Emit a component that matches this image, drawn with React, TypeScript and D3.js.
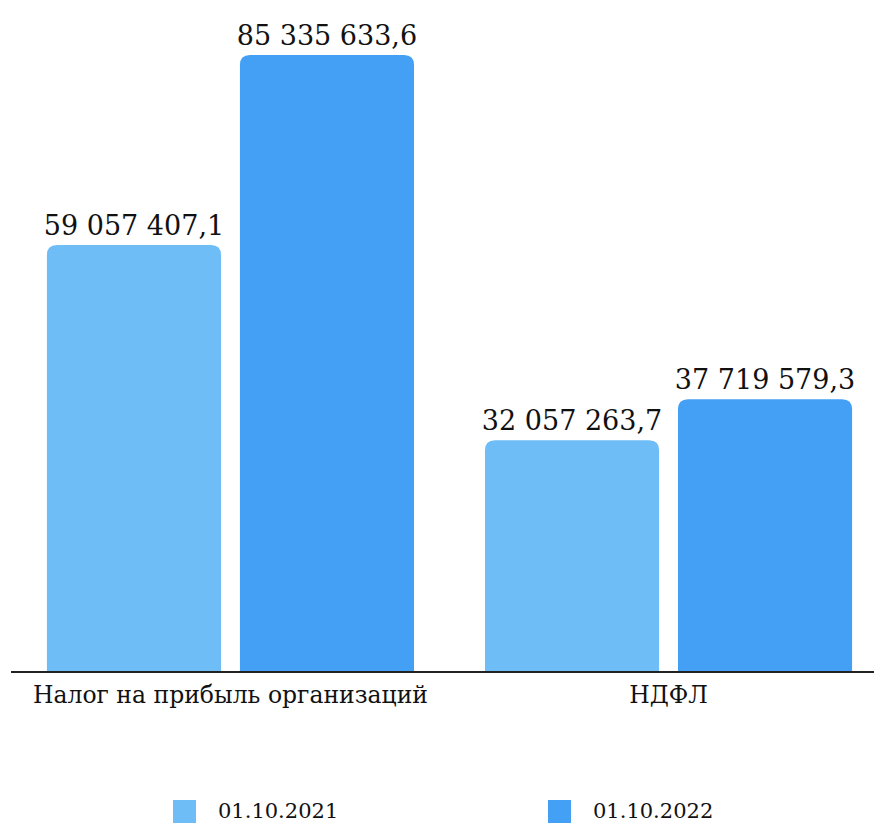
import React from "react";
import * as d3 from "d3";

const categories = ["Налог на прибыль организаций", "НДФЛ"];
const seriesNames = ["01.10.2021", "01.10.2022"];
const series2021 = [59057407.1, 32057263.7];
const series2022 = [85335633.6, 37719579.3];
const seriesColors = ["#6EBDF6", "#43A0F5"];

const W = 874;
const H = 825;
const baseline = 672;

function fmt(v: number): string {
  const [i, f] = v.toFixed(1).split(".");
  return i.replace(/\B(?=(\d{3})+(?!\d))/g, " ") + "," + f;
}

function topRounded(x: number, y: number, w: number, h: number, r: number) {
  const rr = Math.min(r, h / 2, w / 2);
  return `M${x},${y + h}V${y + rr}Q${x},${y} ${x + rr},${y}H${x + w - rr}Q${x + w},${y} ${x + w},${y + rr}V${y + h}Z`;
}

export default function App() {
  const values = [series2021, series2022];
  const x0 = d3
    .scaleBand<string>()
    .domain(categories)
    .range([11, 888])
    .paddingInner(0.162)
    .paddingOuter(0.082);
  const x1 = d3
    .scaleBand<string>()
    .domain(seriesNames)
    .range([0, x0.bandwidth()])
    .paddingInner(0.098);
  const y = d3.scaleLinear().domain([0, 90e6]).range([baseline, baseline - 90 * 7.23]);
  const legendX = d3.scalePoint<string>().domain(seriesNames).range([173, 548]);
  const font = "'DejaVu Serif', serif";

  return (
    <svg width={W} height={H} style={{ position: "absolute", left: 0, top: 0 }} fontFamily={font}>
      <rect width={W} height={H} fill="#fff" />
      {categories.map((c, ci) => (
        <g key={c} transform={`translate(${x0(c)},0)`}>
          {seriesNames.map((s, si) => {
            const v = values[si][ci];
            const bx = x1(s)!;
            const by = y(v);
            return (
              <g key={s}>
                <path d={topRounded(bx, by, x1.bandwidth(), baseline - by, 10)} fill={seriesColors[si]} />
                <text
                  x={bx + x1.bandwidth() / 2}
                  y={by - 10}
                  textAnchor="middle"
                  fontSize={27}
                  fill="#111"
                >
                  {fmt(v)}
                </text>
              </g>
            );
          })}
          <text x={x0.bandwidth() / 2} y={703} textAnchor="middle" fontSize={23.5} fill="#111">
            {c}
          </text>
        </g>
      ))}
      <line x1={11} x2={W} y1={baseline} y2={baseline} stroke="#222" strokeWidth={2} />
      {seriesNames.map((s, si) => (
        <g key={s} transform={`translate(${legendX(s)},800)`}>
          <rect width={23} height={23} fill={seriesColors[si]} />
          <text x={45} y={18} fontSize={21} fill="#111">
            {s}
          </text>
        </g>
      ))}
    </svg>
  );
}
